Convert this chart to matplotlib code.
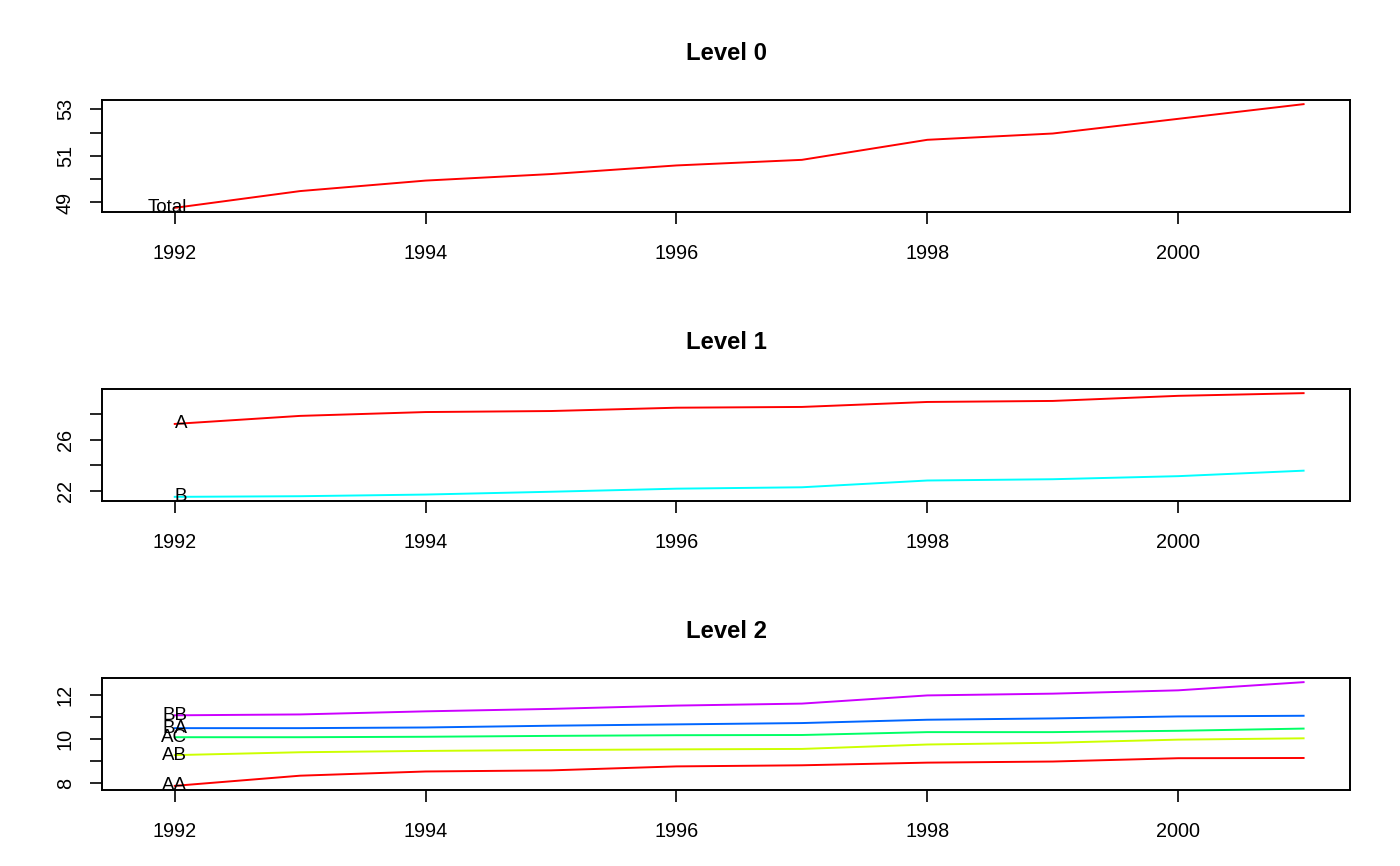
import matplotlib
matplotlib.use("Agg")
from matplotlib import pyplot as plt

plt.rcParams['font.family'] = ['Liberation Sans', 'DejaVu Sans']

years = list(range(1992, 2002))

# Level 0
total = [48.77, 49.49, 49.94, 50.22, 50.59, 50.83, 51.69, 51.96, 52.59, 53.22]

# Level 1
series_a = [27.23, 27.86, 28.16, 28.24, 28.50, 28.56, 28.95, 29.03, 29.43, 29.64]
series_b = [21.52, 21.57, 21.70, 21.92, 22.16, 22.27, 22.80, 22.90, 23.14, 23.57]

# Level 2
series_aa = [7.88, 8.34, 8.53, 8.58, 8.76, 8.81, 8.93, 8.98, 9.13, 9.14]
series_ab = [9.27, 9.40, 9.46, 9.50, 9.53, 9.55, 9.75, 9.83, 9.97, 10.03]
series_ac = [10.08, 10.08, 10.10, 10.14, 10.17, 10.18, 10.31, 10.31, 10.37, 10.47]
series_ba = [10.49, 10.49, 10.52, 10.60, 10.66, 10.72, 10.87, 10.93, 11.02, 11.05]
series_bb = [11.07, 11.11, 11.25, 11.36, 11.51, 11.60, 11.97, 12.05, 12.20, 12.57]

xticks = [1992, 1994, 1996, 1998, 2000]

levels = [
    ("Level 0", ["Total"], [total], ["#FF0000"],
     [49, 50, 51, 52, 53], ["49", "", "51", "", "53"]),
    ("Level 1", ["A", "B"], [series_a, series_b], ["#FF0000", "#00FFFF"],
     [22, 24, 26, 28], ["22", "", "26", ""]),
    ("Level 2", ["AA", "AB", "AC", "BA", "BB"],
     [series_aa, series_ab, series_ac, series_ba, series_bb],
     ["#FF0000", "#CCFF00", "#00FF66", "#0066FF", "#CC00FF"],
     [8, 9, 10, 11, 12], ["8", "", "10", "", "12"]),
]

fig = plt.figure(figsize=(14, 8.66), dpi=100)
tops = [100, 389, 678]
box_h = 112

for (title, names, series, colors, yticks, ylabels), top in zip(levels, tops):
    ax = fig.add_axes([102 / 1400, 1 - (top + box_h) / 866, 1248 / 1400, box_h / 866])
    for name, vals, col in zip(names, series, colors):
        ax.plot(years, vals, color=col, linewidth=1.4)
        # series name written at the first point, like text() in base R
        ax.annotate(name, (years[0], vals[0]), xytext=(9, 0), textcoords='offset points',
                    ha='right', va='center', fontsize=13.5)
    ax.margins(y=0.04)
    ax.set_xlim(1991.42, 2001.37)
    ax.set_xticks(xticks)
    ax.set_xticklabels([str(t) for t in xticks])
    ax.set_yticks(yticks)
    ax.set_yticklabels(ylabels, rotation=90, va='center')
    ax.tick_params(labelsize=14.3, length=8.6, width=1.2, direction='out')
    ax.tick_params(axis='x', pad=14.5)
    ax.tick_params(axis='y', pad=11)
    for sp in ax.spines.values():
        sp.set_linewidth(1.4)
    ax.set_title(title, fontsize=17.2, fontweight='bold', pad=29)

fig.savefig("out.png", dpi=100)
